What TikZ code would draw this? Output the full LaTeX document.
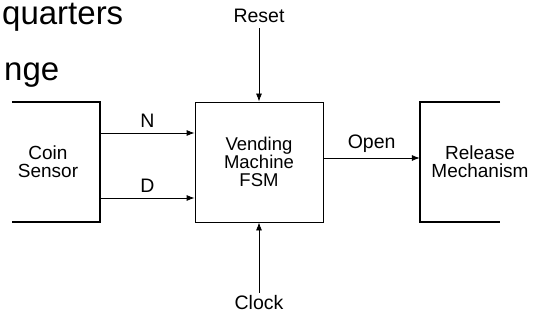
\documentclass[tikz,border=0pt]{standalone}
\usepackage{fontspec}
\setmainfont{Liberation Sans}
\usetikzlibrary{arrows.meta, positioning}

\begin{document}
\begin{tikzpicture}[x=1pt, y=-1pt, >={Latex[length=8pt, width=6pt]},
  heavy/.style={line width=1.8pt},
  sig/.style={->, line width=0.8pt},
  lbl/.style={font=\fontsize{19.5}{17}\selectfont, inner sep=2pt},
  slidetext/.style={font=\fontsize{33}{40}\selectfont, inner sep=0pt, anchor=base west}]

% Frame
\useasboundingbox (0,0) rectangle (534,320);

% Slide text, cut off at the left
\node[slidetext] (quarters) at (2,25) {quarters};
\node[slidetext] (change) at (4,81) {nge};

% Blocks
\node[align=center, minimum width=104pt, minimum height=120pt,
  font=\fontsize{19}{18}\selectfont] (coin) at (48,162) {Coin\\Sensor};
\node[draw, line width=0.8pt, align=center, minimum width=128pt, minimum height=120pt,
  font=\fontsize{18.5}{18}\selectfont] (fsm) at (259,162) {Vending\\Machine\\FSM};
\node[align=center, minimum width=120pt, minimum height=120pt,
  font=\fontsize{19}{18}\selectfont] (release) at (480,162) {Release\\Mechanism};

% Open sides of the outer blocks
\draw[heavy] ([xshift=16pt]coin.north west) -- (coin.north east)
  -- (coin.south east) -- ([xshift=16pt]coin.south west);
\draw[heavy] ([xshift=-40pt]release.north east) -- (release.north west)
  -- (release.south west) -- ([xshift=-40pt]release.south east);

% Signals
\draw[sig] ([yshift=29pt]coin.east) -- node[lbl, above=3pt] (nlab) {N} ([yshift=29pt]fsm.west);
\draw[sig] ([yshift=-36pt]coin.east) -- node[lbl, above=3pt] (dlab) {D} ([yshift=-36pt]fsm.west);
\draw[sig] ([yshift=4pt]fsm.east) -- node[lbl, above=3pt] (openlab) {Open} ([yshift=4pt]release.west);

% Reset and clock
\node[lbl, anchor=base] (reset) at (259,23) {Reset};
\node[lbl, anchor=base] (clock) at (259,309) {Clock};
\draw[sig] ([yshift=-3pt]reset.south) -- (fsm.north);
\draw[sig] (clock.north) -- (fsm.south);

\end{tikzpicture}
\end{document}
